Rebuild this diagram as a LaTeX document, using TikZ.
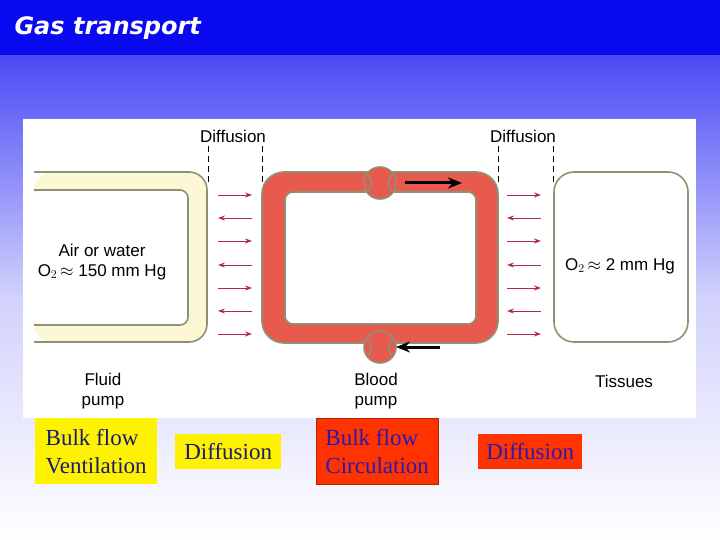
\documentclass[tikz,border=0pt]{standalone}
\usepackage{fontspec}
\setmainfont{Liberation Serif}
\newfontfamily\labfont{Liberation Sans}
\newfontfamily\titlefont{DejaVu Sans}
\usetikzlibrary{arrows.meta}
\definecolor{titleblue}{HTML}{0A0AF0}
\definecolor{bgtop}{HTML}{4A4AF5}
\definecolor{cream}{HTML}{FCF8D6}
\definecolor{tubeline}{HTML}{8E9274}
\definecolor{blood}{HTML}{E85A4E}
\definecolor{diffarrow}{HTML}{B0284A}
\definecolor{navy}{HTML}{1A1A6E}
\definecolor{boxred}{HTML}{FF3300}
\definecolor{redtext}{HTML}{2A1AB0}
\tikzset{
  lab/.style={font=\labfont\fontsize{17}{20}\selectfont, align=center, inner sep=0pt},
  tube/.style={draw=tubeline, line width=1.6pt},
  dline/.style={draw=black, dash pattern=on 6pt off 4pt, line width=1pt},
  darr/.style={draw=diffarrow, line width=0.9pt, -{Stealth[length=7pt,width=5pt]}},
  flow/.style={draw=black, line width=3pt, -{Stealth[length=14pt,width=11pt]}},
  bbox/.style={font=\fontsize{23}{28}\selectfont, align=left, inner sep=3pt, text=navy},
}
\begin{document}
\begin{tikzpicture}[x=1pt,y=-1pt]
\useasboundingbox (0,0) rectangle (720,540);
\shade[top color=bgtop, bottom color=white, middle color=white!75!bgtop] (0,55) rectangle (720,540);
\fill[titleblue] (0,0) rectangle (720,55);
\node[anchor=west, text=white, font=\titlefont\bfseries\itshape\fontsize{24}{26}\selectfont] (title) at (11,28) {Gas transport};
\fill[white] (23,119) rectangle (696,418);
% fluid tube
\fill[cream, rounded corners=18pt] (34,172) -- (207,172) -- (207,342) -- (34,342) -- cycle;
\draw[tube, rounded corners=18pt] (34,172) -- (207,172) -- (207,342) -- (34,342);
\fill[white, rounded corners=8pt] (34,190) -- (188,190) -- (188,325) -- (34,325) -- cycle;
\draw[tube, rounded corners=8pt] (34,190) -- (188,190) -- (188,325) -- (34,325);
% blood loop
\draw[tube, fill=blood, rounded corners=22pt] (262,172) rectangle (498,343);
\draw[tube, fill=white, rounded corners=8pt] (285,192) rectangle (476,324);
\draw[tube, fill=blood] (380,183) circle (16);
\draw[tube, fill=blood] (380,347) circle (16);
\draw[tube] (368,175) .. controls (373,180) and (373,186) .. (368,191);
\draw[tube] (392,175) .. controls (387,180) and (387,186) .. (392,191);
\draw[tube] (368,339) .. controls (373,344) and (373,350) .. (368,355);
\draw[tube] (392,339) .. controls (387,344) and (387,350) .. (392,355);
\coordinate (ta) at (405,183); \coordinate (tb) at (462,183);
\coordinate (ba) at (440,347); \coordinate (bb) at (396,347);
\draw[flow] (ta) -- (tb);
\draw[flow] (ba) -- (bb);
% tissues
\draw[tube, fill=white, rounded corners=20pt] (554,172) rectangle (688,342);
% dashed lines and labels
\node[lab] (d1) at (233,136) {Diffusion};
\node[lab] (d2) at (523,136) {Diffusion};
\foreach \x/\n in {208/a,262/b,498/c,553/d}{
  \coordinate (u\n) at (\x,146); \coordinate (v\n) at (\x,182);
  \draw[dline] (u\n) -- (v\n);
}
% diffusion arrows
\foreach \y [count=\i] in {195,218,241,265,288,311,334}{
  \coordinate (l1) at (218,\y); \coordinate (l2) at (252,\y);
  \coordinate (r1) at (507,\y); \coordinate (r2) at (541,\y);
  \ifodd\i
    \draw[darr] (l1) -- (l2); \draw[darr] (r1) -- (r2);
  \else
    \draw[darr] (l2) -- (l1); \draw[darr] (r2) -- (r1);
  \fi
}
\node[lab] (air) at (102,262) {Air or water\\O$_2$\,$\approx$ 150 mm Hg};
\node[lab] (tis) at (620,266) {O$_2$\,$\approx$ 2 mm Hg};
\node[lab] (fp) at (103,391) {Fluid\\pump};
\node[lab] (bp) at (376,391) {Blood\\pump};
\node[lab] (ts) at (624,381) {Tissues};
% bottom boxes
\node[bbox, fill=yellow, minimum height=66pt, minimum width=122pt, anchor=north west] (b1) at (35,418) {Bulk flow\\Ventilation};
\node[bbox, fill=yellow, minimum height=35pt, minimum width=106pt, align=center, anchor=north west] (b2) at (175,434) {Diffusion};
\node[bbox, fill=boxred, draw=boxred!70!black, text=redtext, minimum height=66pt, minimum width=122pt, anchor=north west] (b3) at (316,418) {Bulk flow\\Circulation};
\node[bbox, fill=boxred, text=redtext, minimum height=35pt, minimum width=104pt, align=center, anchor=north west] (b4) at (478,434) {Diffusion};
\end{tikzpicture}
\end{document}
